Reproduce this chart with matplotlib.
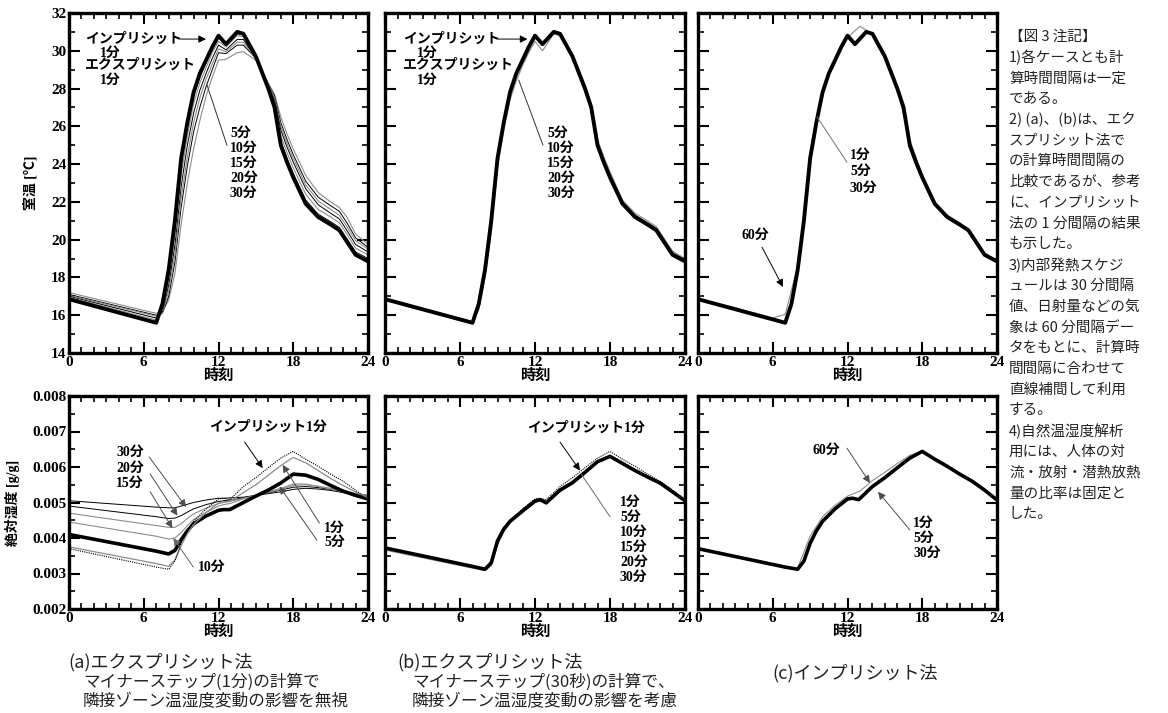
import matplotlib.pyplot as plt
from matplotlib.ticker import MultipleLocator, FormatStrFormatter

plt.rcParams['font.family'] = ['Liberation Serif', 'Noto Sans CJK JP']
plt.rcParams['font.weight'] = 'bold'

# ---- temperature [degC] ----
T_TIME = [0, 7, 7.5, 8, 8.5, 9, 9.5, 10, 10.5, 11, 11.5, 12, 12.6, 13.5, 14,
          15, 16, 16.5, 17, 17.5, 18, 19, 20, 21, 21.7, 22.3, 23, 24]
IMP_T = [16.85, 15.6, 16.6, 18.4, 21.0, 24.3, 26.2, 27.8, 28.8, 29.5, 30.2, 30.8, 30.35, 31.0, 30.9,
         29.7, 28.0, 27.0, 25.0, 24.1, 23.3, 21.9, 21.2, 20.8, 20.5, 19.9, 19.2, 18.85]
A_EXP1_T = [16.9, 15.65, 16.5, 18.2, 20.7, 24.0, 26.0, 27.6, 28.6, 29.4, 30.1, 30.7, 30.3, 30.9, 30.85,
            29.7, 28.0, 27.1, 25.2, 24.3, 23.5, 22.1, 21.35, 20.95, 20.65, 20.05, 19.35, 19.0]
A_EXP5_T = [16.95, 15.75, 16.3, 17.9, 20.2, 23.4, 25.5, 27.2, 28.3, 29.1, 29.9, 30.5, 30.2, 30.8, 30.75,
            29.7, 28.1, 27.3, 25.5, 24.6, 23.8, 22.4, 21.6, 21.2, 20.9, 20.3, 19.55, 19.2]
A_EXP10_T = [17.0, 15.85, 16.2, 17.6, 19.7, 22.8, 25.0, 26.7, 27.9, 28.8, 29.6, 30.3, 30.05, 30.6, 30.6,
             29.6, 28.1, 27.4, 25.8, 24.9, 24.1, 22.7, 21.85, 21.4, 21.1, 20.5, 19.75, 19.35]
A_EXP15_T = [17.05, 15.95, 16.1, 17.3, 19.2, 22.2, 24.4, 26.2, 27.5, 28.5, 29.3, 30.1, 29.95, 30.45, 30.45,
             29.6, 28.2, 27.5, 26.0, 25.1, 24.3, 22.9, 22.05, 21.6, 21.3, 20.7, 19.95, 19.5]
A_EXP20_T = [17.1, 16.0, 16.1, 17.0, 18.8, 21.7, 23.9, 25.7, 27.0, 28.1, 29.0, 29.9, 29.85, 30.3, 30.3,
             29.6, 28.2, 27.6, 26.2, 25.3, 24.5, 23.1, 22.25, 21.8, 21.5, 20.9, 20.1, 19.6]
A_EXP30_T = [17.2, 16.1, 16.2, 16.8, 18.2, 20.8, 23.0, 24.8, 26.3, 27.6, 28.6, 29.5, 29.55, 29.9, 29.95,
             29.5, 28.3, 27.7, 26.5, 25.6, 24.8, 23.4, 22.5, 22.0, 21.7, 21.2, 20.3, 19.75]
B_EXP5_T = [16.8, 15.55, 16.5, 18.3, 20.9, 24.2, 26.1, 27.7, 28.7, 29.4, 30.1, 30.7, 30.3, 30.95, 30.85,
            29.75, 28.1, 27.1, 25.1, 24.2, 23.4, 22.0, 21.3, 20.9, 20.6, 20.0, 19.3, 18.95]
B_EXP30_T = [16.9, 15.65, 16.3, 18.0, 20.4, 23.8, 25.8, 27.4, 28.4, 29.2, 29.9, 30.5, 30.0, 30.9, 30.8,
             29.8, 28.2, 27.2, 25.3, 24.4, 23.6, 22.1, 21.4, 21.0, 20.7, 20.1, 19.4, 19.0]
HOURS = [0, 1, 2, 3, 4, 5, 6, 7, 8, 9, 10, 11, 12, 13, 14, 15, 16, 17, 18, 19, 20, 21, 22, 23, 24]
C60_T = [16.85, 16.7, 16.55, 16.4, 16.2, 16.05, 15.85, 16.05, 18.6, 24.0, 27.8, 29.6, 30.7,
         31.3, 30.9, 29.8, 28.0, 25.3, 23.4, 22.0, 21.3, 20.9, 20.3, 19.3, 18.9]

# ---- absolute humidity [g/g] ----
H_TIME = [0, 7, 8, 8.5, 9, 9.5, 10, 11, 12, 12.4, 12.9, 14, 15, 16, 17, 18, 19, 20, 21, 22, 23, 24]
IMP_H = [0.00370, 0.00318, 0.00312, 0.00335, 0.00385, 0.00420, 0.00447, 0.00482, 0.00510, 0.00512, 0.00508,
         0.00545, 0.00570, 0.00598, 0.00625, 0.00644, 0.00622, 0.00602, 0.00580, 0.00560, 0.00535, 0.00507]
A_EXP1_H = [0.00375, 0.00328, 0.00320, 0.00338, 0.00378, 0.00412, 0.00438, 0.00472, 0.00498, 0.00502, 0.00503,
            0.00528, 0.00550, 0.00577, 0.00604, 0.00627, 0.00612, 0.00590, 0.00568, 0.00548, 0.00530, 0.00512]
A_EXP5_H = [0.00410, 0.00363, 0.00355, 0.00365, 0.00395, 0.00420, 0.00440, 0.00462, 0.00478, 0.00480, 0.00480,
            0.00500, 0.00518, 0.00535, 0.00555, 0.00580, 0.00577, 0.00565, 0.00548, 0.00532, 0.00520, 0.00510]
A_EXP10_H = [0.00445, 0.00405, 0.00397, 0.00400, 0.00415, 0.00435, 0.00452, 0.00472, 0.00490, 0.00494, 0.00497,
             0.00510, 0.00520, 0.00530, 0.00540, 0.00552, 0.00552, 0.00545, 0.00538, 0.00530, 0.00522, 0.00515]
A_EXP15_H = [0.00470, 0.00435, 0.00430, 0.00430, 0.00440, 0.00455, 0.00468, 0.00484, 0.00497, 0.00500, 0.00503,
             0.00512, 0.00520, 0.00528, 0.00537, 0.00548, 0.00550, 0.00546, 0.00540, 0.00533, 0.00526, 0.00520]
A_EXP20_H = [0.00490, 0.00460, 0.00455, 0.00456, 0.00463, 0.00473, 0.00482, 0.00494, 0.00503, 0.00505, 0.00507,
             0.00513, 0.00520, 0.00527, 0.00535, 0.00543, 0.00545, 0.00542, 0.00537, 0.00531, 0.00525, 0.00520]
A_EXP30_H = [0.00505, 0.00487, 0.00485, 0.00485, 0.00490, 0.00495, 0.00500, 0.00507, 0.00512, 0.00512, 0.00513,
             0.00515, 0.00520, 0.00525, 0.00530, 0.00537, 0.00540, 0.00538, 0.00534, 0.00528, 0.00522, 0.00517]
B_EXP_H = [0.00372, 0.00320, 0.00312, 0.00330, 0.00392, 0.00425, 0.00447, 0.00476, 0.00504, 0.00508, 0.00499,
           0.00535, 0.00556, 0.00585, 0.00615, 0.00630, 0.00610, 0.00590, 0.00572, 0.00555, 0.00530, 0.00505]
B_EXP30_H = [0.00366, 0.00315, 0.00308, 0.00322, 0.00380, 0.00418, 0.00442, 0.00472, 0.00500, 0.00505, 0.00497,
             0.00530, 0.00552, 0.00582, 0.00612, 0.00628, 0.00608, 0.00588, 0.00570, 0.00553, 0.00528, 0.00503]
C60_H = [0.00370, 0.00363, 0.00355, 0.00348, 0.00340, 0.00333, 0.00326, 0.00318, 0.00316, 0.00405, 0.00460,
         0.00492, 0.00518, 0.00532, 0.00562, 0.00585, 0.00610, 0.00633, 0.00644, 0.00622, 0.00602, 0.00580,
         0.00560, 0.00535, 0.00507]

A_TOP_LABELS = ['5分', '10分', '15分', '20分', '30分']
B_BOT_LABELS = ['1分', '5分', '10分', '15分', '20分', '30分']
C_LABELS = ['1分', '5分', '30分']

CAPTIONS = [
    ('(a)エクスプリシット法', 'マイナーステップ(1分)の計算で', '隣接ゾーン温湿度変動の影響を無視'),
    ('(b)エクスプリシット法', 'マイナーステップ(30秒)の計算で、', '隣接ゾーン温湿度変動の影響を考慮'),
]
NOTES = [
    '【図 3 注記】', '1)各ケースとも計', '算時間間隔は一定', 'である。',
    '2) (a)、(b)は、エク', 'スプリシット法で', 'の計算時間間隔の', '比較であるが、参考',
    'に、インプリシット', '法の 1 分間隔の結果', 'も示した。', '3)内部発熱スケジ',
    'ュールは 30 分間隔', '値、日射量などの気', '象は 60 分間隔デー', 'タをもとに、計算時',
    '間間隔に合わせて', '直線補間して利用', 'する。', '4)自然温湿度解析',
    '用には、人体の対', '流・放射・潜熱放熱', '量の比率は固定と', 'した。',
]

W, H = 1168, 713
fig = plt.figure(figsize=(W / 100, H / 100), dpi=100)


def box(x0, y0, x1, y1):
    return [x0 / W, 1 - y1 / H, (x1 - x0) / W, (y1 - y0) / H]


def style(ax, top):
    ax.set_xlim(0, 24)
    ax.set_xticks([0, 6, 12, 18, 24])
    ax.xaxis.set_minor_locator(MultipleLocator(1))
    if top:
        ax.set_ylim(14, 32)
        ax.yaxis.set_major_locator(MultipleLocator(2))
        ax.yaxis.set_minor_locator(MultipleLocator(1))
    else:
        ax.set_ylim(0.002, 0.008)
        ax.yaxis.set_major_locator(MultipleLocator(0.001))
        ax.yaxis.set_minor_locator(MultipleLocator(0.0005))
        ax.yaxis.set_major_formatter(FormatStrFormatter('%.3f'))
    ax.tick_params(which='both', direction='in', top=True, right=True, labelsize=11, pad=2)
    ax.tick_params(which='major', length=8, width=1.5)
    ax.tick_params(which='minor', length=4, width=1.2)
    for s in ax.spines.values():
        s.set_linewidth(2.4)
    ax.set_xlabel('時刻', fontsize=11, weight='bold', labelpad=0)


def arrow(ax, start, tip, color='k'):
    ax.annotate('', xy=tip, xytext=start,
                arrowprops=dict(arrowstyle='-|>', color=color, lw=0.7, mutation_scale=11,
                                shrinkA=0, shrinkB=0))


def pointer(ax, start, end, color='0.2'):
    ax.annotate('', xy=end, xytext=start,
                arrowprops=dict(arrowstyle='-', color=color, lw=0.7, shrinkA=0, shrinkB=0))


def stack(ax, x, y, labels, step=10.8):
    for i, s in enumerate(labels):
        ax.annotate(s, xy=(x, y), xytext=(0, -i * step), textcoords='offset points',
                    fontsize=10, weight='bold', ha='left', va='center')


def lab(ax, x, y, s, ha='left'):
    ax.text(x, y, s, fontsize=10, weight='bold', ha=ha, va='center')


cols = [(69, 368), (385, 685), (698, 997)]
axT = [fig.add_axes(box(x0, 13, x1, 353)) for x0, x1 in cols]
axB = [fig.add_axes(box(x0, 396, x1, 609)) for x0, x1 in cols]

# ---------- top (a) ----------
ax = axT[0]
ax.plot(T_TIME, A_EXP30_T, color='0.55', lw=0.8)
ax.plot(T_TIME, A_EXP20_T, color='k', lw=0.7)
ax.plot(T_TIME, A_EXP15_T, color='0.55', lw=0.8)
ax.plot(T_TIME, A_EXP10_T, color='k', lw=0.7)
ax.plot(T_TIME, A_EXP5_T, color='0.55', lw=0.8)
ax.plot(T_TIME, IMP_T, color='k', lw=2.8)
ax.plot(T_TIME, A_EXP1_T, color='k', lw=0.7)
lab(ax, 1.28, 30.62, 'インプリシット')
lab(ax, 2.5, 29.88, '1分')
lab(ax, 1.28, 29.25, 'エクスプリシット')
lab(ax, 2.5, 28.45, '1分')
arrow(ax, (8.95, 30.62), (11.0, 30.62))
pointer(ax, (11.07, 28.2), (12.68, 25.0))
stack(ax, 12.92, 25.65, A_TOP_LABELS)
ax.set_ylabel('室温 [℃]', fontsize=10, weight='bold')
ax.yaxis.set_label_coords(-0.105, 0.5)

# ---------- top (b) ----------
ax = axT[1]
ax.plot(T_TIME, B_EXP30_T, color='0.55', lw=0.8)
ax.plot(T_TIME, IMP_T, color='k', lw=2.8)
ax.plot(T_TIME, B_EXP5_T, color='k', lw=0.7)
lab(ax, 1.44, 30.62, 'インプリシット')
lab(ax, 2.56, 29.88, '1分')
lab(ax, 1.44, 29.25, 'エクスプリシット')
lab(ax, 2.56, 28.45, '1分')
arrow(ax, (9.05, 30.62), (11.4, 30.62))
pointer(ax, (10.7, 28.45), (12.64, 25.0))
stack(ax, 12.96, 25.65, A_TOP_LABELS)

# ---------- top (c) ----------
ax = axT[2]
ax.plot(HOURS, C60_T, color='0.55', lw=0.8)
ax.plot(T_TIME, IMP_T, color='k', lw=2.8)
pointer(ax, (9.55, 26.5), (11.96, 24.1), color='0.45')
stack(ax, 12.2, 24.48, C_LABELS, step=12)
lab(ax, 4.58, 20.25, '60分', ha='center')
arrow(ax, (5.14, 19.6), (6.82, 17.5))

# ---------- bottom (a) ----------
ax = axB[0]
ax.plot(H_TIME, A_EXP30_H, color='k', lw=0.7)
ax.plot(H_TIME, A_EXP20_H, color='k', lw=0.7)
ax.plot(H_TIME, A_EXP15_H, color='0.55', lw=0.8)
ax.plot(H_TIME, A_EXP10_H, color='0.55', lw=0.8)
ax.plot(H_TIME, A_EXP5_H, color='k', lw=2.6)
ax.plot(H_TIME, A_EXP1_H, color='0.55', lw=0.9)
ax.plot(H_TIME, IMP_H, color='k', lw=0.8, ls=(0, (1, 1)))
lab(ax, 15.95, 0.00713, 'インプリシット1分', ha='center')
arrow(ax, (14.1, 0.0067), (15.55, 0.00597))
lab(ax, 4.9, 0.0064, '30分', ha='center')
lab(ax, 4.9, 0.00597, '20分', ha='center')
lab(ax, 4.9, 0.00555, '15分', ha='center')
arrow(ax, (6.44, 0.00628), (9.4, 0.00487), color='0.3')
arrow(ax, (6.52, 0.0058), (8.7, 0.00463), color='0.3')
arrow(ax, (6.52, 0.0053), (8.3, 0.00428), color='0.3')
lab(ax, 11.44, 0.00318, '10分', ha='center')
arrow(ax, (9.98, 0.00318), (8.37, 0.0040), color='0.4')
lab(ax, 21.3, 0.00428, '1分', ha='center')
lab(ax, 21.3, 0.00389, '5分', ha='center')
arrow(ax, (20.1, 0.00442), (17.15, 0.00606), color='0.3')
arrow(ax, (19.9, 0.00394), (16.9, 0.00545), color='0.3')
ax.set_ylabel('絶対湿度 [g/g]', fontsize=10, weight='bold')
ax.yaxis.set_label_coords(-0.163, 0.5)

# ---------- bottom (b) ----------
ax = axB[1]
ax.plot(H_TIME, B_EXP30_H, color='0.55', lw=0.8)
ax.plot(H_TIME, B_EXP_H, color='k', lw=2.6)
ax.plot(H_TIME, IMP_H, color='k', lw=0.8, ls=(0, (1, 1)))
lab(ax, 16.1, 0.0071, 'インプリシット1分', ha='center')
arrow(ax, (14.0, 0.0067), (15.6, 0.0059))
pointer(ax, (15.7, 0.0058), (18.0, 0.0046), color='0.4')
stack(ax, 18.8, 0.00501, B_BOT_LABELS)

# ---------- bottom (c) ----------
ax = axB[2]
ax.plot(HOURS, C60_H, color='0.55', lw=0.8)
ax.plot(H_TIME, IMP_H, color='k', lw=2.6)
lab(ax, 10.27, 0.00648, '60分', ha='center')
arrow(ax, (11.96, 0.00653), (13.8, 0.00555), color='0.3')
stack(ax, 17.26, 0.00442, C_LABELS)
arrow(ax, (17.0, 0.00423), (14.45, 0.0053), color='0.3')

for a in axT + axB:
    style(a, a in axT)
for a in axT[1:] + axB[1:]:
    a.tick_params(labelleft=False)

# ---------- captions and notes ----------
cjk = ['Noto Sans CJK JP']
for (main, s1, s2), x0, x1 in zip(CAPTIONS, [68, 397], [83, 412]):
    fig.text(x0 / W, 1 - 662 / H, main, fontsize=13, family=cjk, weight='normal', color='#222', va='center')
    fig.text(x1 / W, 1 - 682 / H, s1, fontsize=12, family=cjk, weight='normal', color='#222', va='center')
    fig.text(x1 / W, 1 - 702 / H, s2, fontsize=12, family=cjk, weight='normal', color='#222', va='center')
fig.text(772 / W, 1 - 673 / H, '(c)インプリシット法', fontsize=13, family=cjk, weight='normal',
         color='#222', va='center')

for i, line in enumerate(NOTES):
    fig.text(1009 / W, 1 - (37 + i * 20.74) / H, line, fontsize=10.5, family=cjk, weight='normal',
             color='#222', va='center')

fig.savefig('out.png', dpi=100)
